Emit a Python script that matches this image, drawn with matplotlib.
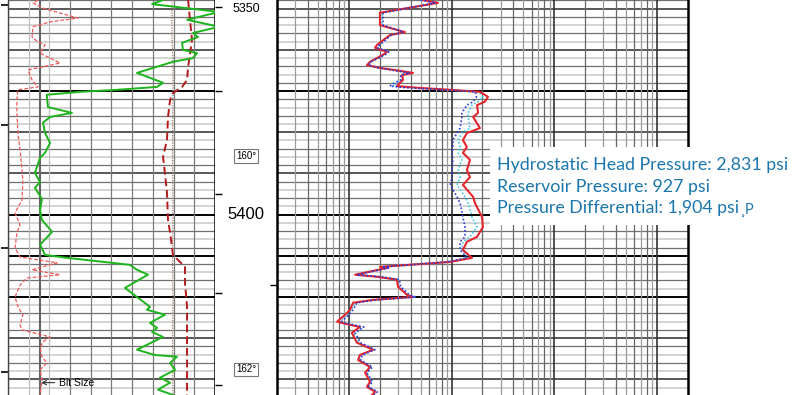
import matplotlib.pyplot as plt
import numpy as np
from matplotlib.patches import Rectangle

# depth window of the log (ft)
top_depth, bottom_depth = 5347.9, 5443.8

# left track, values in chart divisions (0-10)
gr_depth = [5347.9, 5348.9, 5350.8, 5352.7, 5354.4, 5355.9, 5356.9, 5358.3, 5360.0, 5360.8,
            5362.0, 5362.9, 5365.6, 5368.0, 5369.0, 5369.7, 5370.2, 5370.9, 5371.4, 5373.9,
            5375.3, 5376.3, 5377.7, 5380.2, 5382.6, 5385.0, 5386.2, 5389.9, 5392.1, 5393.5,
            5396.2, 5398.9, 5401.3, 5404.2, 5407.3, 5409.8, 5410.5, 5412.2, 5413.4, 5414.6,
            5417.8, 5420.0, 5422.4, 5423.1, 5424.3, 5426.3, 5427.5, 5428.5, 5429.7, 5432.8,
            5434.1, 5434.5, 5436.0, 5437.7, 5439.6, 5440.8, 5442.5, 5443.8]
gr_val = [7.49, 6.96, 10.2, 8.65, 10.2, 8.94, 9.18, 8.41, 8.45, 9.13,
          8.94, 7.97, 6.23, 7.49, 7.20, 5.27, 3.48, 1.88, 1.88, 1.93,
          3.09, 2.03, 1.69, 1.79, 2.03, 1.79, 1.55, 1.30, 1.55, 1.30,
          1.64, 1.55, 1.64, 2.13, 1.55, 1.79, 2.85, 5.89, 6.23, 6.76,
          5.65, 6.23, 6.86, 6.71, 7.58, 6.86, 7.20, 6.96, 7.49, 6.23,
          7.10, 8.16, 7.83, 8.07, 7.34, 7.83, 7.25, 7.97]

cal_depth = [5347.9, 5348.6, 5349.8, 5352.3, 5353.2, 5354.4, 5356.9, 5358.1, 5358.8, 5360.0,
             5360.8, 5363.2, 5364.9, 5367.3, 5369.0, 5369.7, 5372.2, 5375.3, 5380.2, 5384.3,
             5391.6, 5396.4, 5399.6, 5402.5, 5404.4, 5408.1, 5410.3, 5411.7, 5413.4, 5414.6,
             5415.4, 5417.1, 5420.0, 5422.4, 5424.3, 5426.8, 5428.0, 5429.7, 5430.9, 5432.4,
             5434.5, 5436.0, 5437.7, 5440.1, 5443.8]
cal_val = [1.45, 1.21, 1.64, 3.38, 2.03, 1.21, 1.16, 1.45, 1.79, 1.64,
           1.55, 2.51, 0.97, 1.16, 1.45, 0.48, 0.43, 0.43, 0.48, 0.58,
           0.72, 0.68, 0.34, 0.58, 0.43, 0.34, 0.58, 2.37, 1.16, 2.51,
           0.92, 0.58, 0.34, 0.48, 0.72, 0.58, 0.68, 2.03, 1.69, 1.55,
           1.64, 1.88, 1.55, 1.64, 1.55]

sp_depth = [5347.9, 5352.7, 5357.6, 5364.2, 5367.3, 5369.0, 5370.5, 5372.2, 5376.3, 5381.9,
            5386.0, 5389.9, 5394.7, 5401.3, 5404.4, 5407.8, 5409.8, 5411.5, 5412.7, 5416.6,
            5422.4, 5443.8]
sp_val = [8.70, 8.79, 8.89, 8.70, 8.65, 8.41, 7.97, 7.83, 7.73, 7.68,
          7.49, 7.58, 7.68, 7.73, 7.83, 7.92, 7.97, 8.31, 8.55, 8.55,
          8.65, 8.65]

ten_depth = [5347.9, 5355.9, 5362.5, 5370.5, 5385.0, 5396.4, 5410.0, 5420.7, 5432.0, 5443.8]
ten_val = [7.92, 7.92, 7.97, 7.97, 7.95, 7.97, 7.95, 7.97, 7.95, 7.97]

bit_size = 1.55

# right track, resistivity (ohm-m)
res_depth = [5347.9, 5348.6, 5351.0, 5354.0, 5355.7, 5356.4, 5358.8, 5359.5, 5360.5, 5361.2,
             5362.9, 5363.7, 5364.4, 5365.1, 5365.6, 5366.1, 5367.3, 5368.0, 5368.8, 5369.2,
             5369.7, 5370.2, 5371.4, 5372.6, 5373.4, 5375.3, 5376.3, 5379.0, 5380.2, 5381.9,
             5383.6, 5385.0, 5386.7, 5389.2, 5390.9, 5392.8, 5395.7, 5397.2, 5400.6, 5403.0,
             5405.4, 5406.6, 5408.6, 5410.5, 5411.5, 5412.7, 5412.9, 5414.6, 5415.1, 5415.8,
             5417.5, 5419.5, 5420.0, 5420.7, 5421.4, 5423.1, 5424.3, 5426.0, 5426.3, 5427.3,
             5428.7, 5431.1, 5432.8, 5434.1, 5435.3, 5437.0, 5438.4, 5440.6, 5441.8, 5443.0,
             5443.8]
res_deep = [5.27, 7.38, 2.01, 2.01, 3.52, 2.52, 1.88, 1.80, 2.35, 2.15,
            1.61, 1.50, 2.01, 3.15, 4.21, 3.30, 3.37, 3.15, 2.94, 4.61,
            9.66, 18.9, 22.6, 21.1, 17.7, 18.1, 16.2, 18.9, 14.1, 12.9,
            14.1, 12.9, 15.1, 14.1, 15.1, 12.9, 16.2, 16.9, 19.8, 20.2,
            17.7, 14.1, 12.9, 15.8, 9.66, 2.01, 2.41, 1.15, 1.88, 2.94,
            3.01, 3.68, 4.21, 1.72, 1.10, 1.03, 0.92, 0.77, 0.86, 1.28,
            1.07, 1.20, 1.72, 1.28, 1.23, 1.61, 1.44, 1.61, 1.50, 1.80,
            1.68]
res_shallow = [5.0, 7.0, 2.15, 2.15, 3.4, 2.6, 2.0, 1.9, 2.45, 2.25,
               1.65, 1.55, 2.0, 2.9, 3.9, 3.2, 3.2, 2.8, 2.5, 3.6,
               8.5, 17.0, 17.5, 16.2, 14.1, 12.6, 12.6, 12.1, 11.3, 10.3,
               10.3, 10.1, 10.3, 10.1, 10.1, 9.7, 11.3, 12.1, 12.9, 13.5,
               13.5, 12.1, 12.1, 14.1, 9.0, 2.1, 2.5, 1.2, 2.1, 3.1,
               3.2, 3.9, 4.5, 1.9, 1.2, 1.1, 1.0, 0.85, 0.92, 1.4,
               1.15, 1.3, 1.8, 1.35, 1.3, 1.7, 1.5, 1.7, 1.55, 1.9,
               1.75]
res_medium = [5.1, 7.2, 2.1, 2.1, 3.45, 2.55, 1.95, 1.85, 2.4, 2.2,
              1.63, 1.52, 2.0, 3.0, 4.0, 3.25, 3.3, 3.0, 2.7, 4.0,
              9.0, 18.5, 20.2, 18.1, 15.8, 14.5, 14.5, 15.1, 12.6, 11.6,
              12.1, 11.6, 12.6, 11.6, 12.1, 11.3, 13.5, 14.5, 15.8, 17.7,
              15.1, 12.9, 12.6, 14.8, 9.3, 2.05, 2.45, 1.17, 1.95, 3.0,
              3.1, 3.8, 4.35, 1.8, 1.15, 1.06, 0.96, 0.8, 0.89, 1.33,
              1.1, 1.25, 1.75, 1.3, 1.27, 1.65, 1.47, 1.65, 1.52, 1.85,
              1.7]

depth_labels = [5350, 5400]
temp_depth = [5385.7, 5437.6]
temp_labels = ['160°', '162°']
depth_marks = [5349.6, 5369.9, 5394.9, 5419.1, 5441.4]
edge_marks = [5349.1, 5378.2, 5408.1, 5438.2]
heavy_lines = [5370, 5400, 5410, 5420]

pressure_lines = ['Hydrostatic Head Pressure: 2,831 psi',
                  'Reservoir Pressure: 927 psi',
                  'Pressure Differential: 1,904 psi']

fig = plt.figure(figsize=(8.12, 3.95), dpi=100)
W, H = 812, 395
ax_left = fig.add_axes([8 / W, 0, 207 / W, 1])
ax_depth = fig.add_axes([215 / W, 0, 62 / W, 1])
ax_right = fig.add_axes([277 / W, 0, 411 / W, 1])


def depth_grid(ax):
    for d in np.arange(5348, 5444, 2):
        if d in heavy_lines:
            c, lw = 'black', 1.4
        elif d % 10 == 0:
            c, lw = '#3c3c3c', 1.2
        elif d % 4 == 0:
            c, lw = '#707070', 0.9
        else:
            c, lw = '#c8c8c8', 1.1
        ax.axhline(d, color=c, lw=lw, zorder=1)


for ax in (ax_left, ax_depth, ax_right):
    ax.set_ylim(bottom_depth, top_depth)
    for s in ax.spines.values():
        s.set_visible(False)
    ax.set_xticks([])

# left track
ax_left.set_xlim(0, 10)
depth_grid(ax_left)
for i in range(11):
    ax_left.axvline(i, color='#bdbdbd' if i in (1, 2) else '#7a7a7a', lw=0.9, zorder=1)
ax_left.axvline(bit_size, color='#666666', lw=1.5, zorder=2)
ax_left.plot(cal_val, cal_depth, color='#f25a5a', lw=0.9, ls=(0, (3, 1.5)), zorder=3)
ax_left.plot(ten_val, ten_depth, color='#9c7b6c', lw=0.9, ls=(0, (1, 1)), zorder=3)
ax_left.plot(sp_val, sp_depth, color='#b31b1b', lw=1.4, ls=(0, (4, 2)), zorder=3)
ax_left.plot(gr_val, gr_depth, color='#1db41d', lw=1.4, zorder=4)
ax_left.annotate('Bit Size', xy=(bit_size + 0.05, 5440.8), xytext=(2.45, 5440.8),
                 va='center', fontsize=7.5, family='Liberation Sans',
                 arrowprops=dict(arrowstyle='->', color='#333333', lw=0.8,
                                 shrinkA=1, shrinkB=0))
ax_left.spines['left'].set_visible(True)
ax_left.spines['left'].set_linewidth(1.0)
ax_left.spines['left'].set_color('#444444')
ax_left.spines['right'].set_visible(True)
ax_left.spines['right'].set_linewidth(1.8)
ax_left.set_yticks(edge_marks)
ax_left.tick_params(axis='y', direction='out', length=5, width=1.2, labelleft=False)

# depth track
ax_depth.set_xlim(0, 1)
ax_depth.set_yticks(depth_marks)
ax_depth.tick_params(axis='y', direction='in', length=5, width=1, labelleft=False)
ax_depth.text(0.5, depth_labels[0], str(depth_labels[0]), ha='center', va='center',
              fontsize=9, family='Liberation Sans')
ax_depth.text(0.5, depth_labels[1], str(depth_labels[1]), ha='center', va='center',
              fontsize=12, family='Liberation Sans')
for d, t in zip(temp_depth, temp_labels):
    ax_depth.text(0.5, d, t, ha='center', va='center', fontsize=7, family='Liberation Sans',
                  bbox=dict(boxstyle='square,pad=0.2', fc='white', ec='#777777', lw=0.8))

# right track
ax_right.set_xscale('log')
ax_right.set_xlim(0.2, 2000)
depth_grid(ax_right)
for dec in (0.1, 1, 10, 100, 1000):
    for m in range(1, 10):
        v = m * dec
        if 0.2 < v < 2000:
            if m == 1:
                ax_right.axvline(v, color='#333333', lw=1.2, zorder=1)
            else:
                ax_right.axvline(v, color='#9a9a9a' if m % 2 else '#666666', lw=0.9, zorder=1)
ax_right.plot(res_medium, res_depth, color='#3cc8e8', lw=1.2, ls=(0, (1, 1.2)), zorder=3)
ax_right.plot(res_deep, res_depth, color='#e3262e', lw=1.5, zorder=4)
ax_right.plot(res_shallow, res_depth, color='#2a3bdc', lw=1.2, ls=(0, (1, 1.3)), zorder=5)
ax_right.spines['left'].set_visible(True)
ax_right.spines['left'].set_linewidth(1.8)
ax_right.spines['right'].set_visible(True)
ax_right.spines['right'].set_linewidth(1.8)
ax_right.set_yticks([5417.1])
ax_right.tick_params(axis='y', direction='out', length=5, width=1, labelleft=False)
ax_right.minorticks_off()
ax_right.tick_params(axis='x', which='both', bottom=False, labelbottom=False)

# pressure call-out
fig.add_artist(Rectangle((490 / W, 1 - 225 / H), (W - 490) / W, 78 / H,
                         transform=fig.transFigure, fc='white', ec='none', zorder=10))
texts = []
for i, line in enumerate(pressure_lines):
    texts.append(fig.text(497 / W, 1 - (165 + 21.5 * i) / H, line, ha='left', va='center',
                          fontsize=12.8, color='#1b76ad', family='Lato', zorder=11))

# stray glyphs after the last line, as in the source image
fig.canvas.draw()
bb = texts[-1].get_window_extent()
fig.text(bb.x1 / W, 1 - 209 / H, '\u00b8P', ha='left', va='center',
         fontsize=10.5, color='#1b76ad', family='Lato', zorder=11)

fig.savefig('out.png', dpi=100)
